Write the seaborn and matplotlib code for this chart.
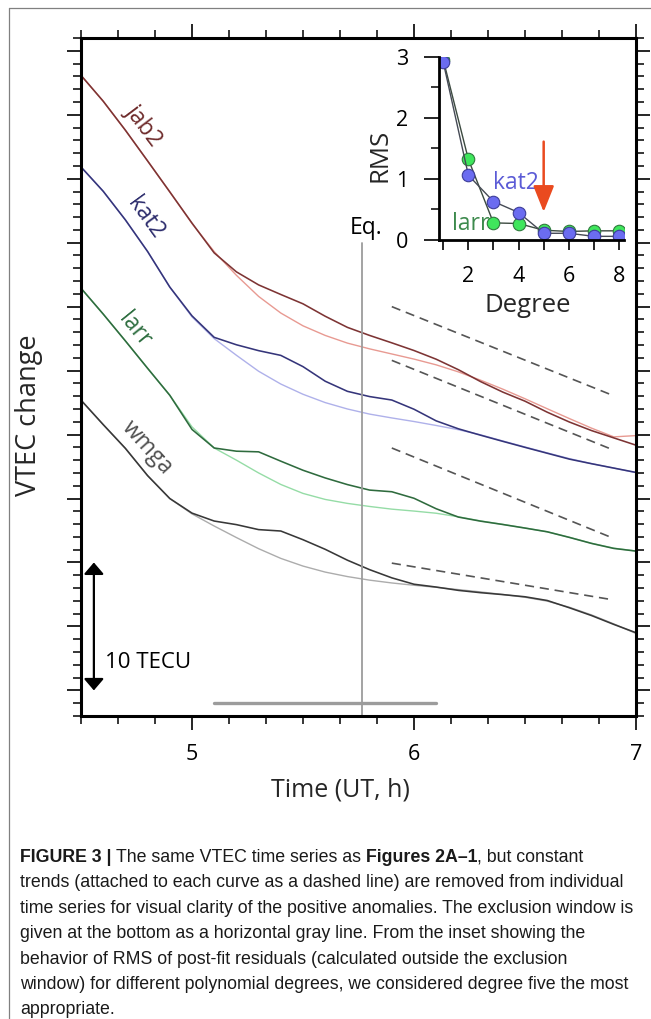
import numpy as np
import pandas as pd
import matplotlib
matplotlib.use("Agg")
import matplotlib.pyplot as plt
from matplotlib.lines import Line2D
import seaborn as sns

# ---------------------------------------------------------------- data
# UT hours
time_h = [4.5, 4.6, 4.7, 4.8, 4.9, 5.0, 5.1, 5.2, 5.3, 5.4, 5.5, 5.6, 5.7,
          5.8, 5.9, 6.0, 6.1, 6.2, 6.3, 6.4, 6.5, 6.6, 6.7, 6.8, 6.9, 7.0]

# observed VTEC (TECU, detrended and offset per station)
jab2_obs = [48.08, 46.06, 43.79, 41.39, 38.97, 36.53, 34.20, 32.72, 31.70,
            30.95, 30.22, 29.25, 28.38, 27.75, 27.17, 26.57, 25.89, 25.07,
            24.14, 23.32, 22.61, 21.75, 20.98, 20.31, 19.74, 19.17]
kat2_obs = [40.92, 39.02, 36.78, 34.31, 31.53, 29.28, 27.60, 27.02, 26.56,
            26.19, 25.31, 24.17, 23.38, 22.97, 22.70, 21.98, 21.07, 20.45,
            19.95, 19.47, 19.00, 18.54, 18.08, 17.72, 17.38, 17.04]
larr_obs = [31.44, 29.42, 27.32, 25.18, 23.07, 20.40, 18.95, 18.70, 18.65,
            17.92, 17.21, 16.61, 16.09, 15.66, 15.53, 15.02, 14.20, 13.55,
            13.23, 12.97, 12.69, 12.40, 11.96, 11.49, 11.10, 10.89]
wmga_obs = [22.69, 20.78, 18.92, 16.79, 15.00, 13.86, 13.24, 12.96, 12.57,
            12.46, 11.78, 11.03, 10.18, 9.44, 8.80, 8.30, 8.08, 7.82,
            7.64, 7.49, 7.32, 7.03, 6.46, 5.85, 5.16, 4.51]

# degree-5 polynomial models fitted outside the exclusion window
jab2_fit = [48.08, 46.06, 43.79, 41.39, 38.97, 36.50, 34.30, 32.45, 30.80,
            29.50, 28.50, 27.75, 27.15, 26.70, 26.30, 25.90, 25.45, 24.90,
            24.25, 23.55, 22.80, 22.02, 21.25, 20.50, 19.82, 19.92]
kat2_fit = [40.92, 39.02, 36.78, 34.31, 31.53, 29.20, 27.50, 26.20, 24.95,
            23.95, 23.15, 22.50, 22.00, 21.60, 21.30, 21.02, 20.71, 20.38,
            19.98, 19.50, 19.03, 18.57, 18.12, 17.73, 17.38, 17.02]
larr_fit = [31.44, 29.42, 27.32, 25.18, 23.07, 20.60, 18.95, 18.00, 17.00,
            16.10, 15.40, 14.93, 14.62, 14.38, 14.17, 14.02, 13.85, 13.57,
            13.25, 12.98, 12.70, 12.40, 11.97, 11.50, 11.12, 10.90]
wmga_fit = [22.69, 20.78, 18.92, 16.79, 15.00, 13.80, 12.85, 11.95, 11.08,
            10.32, 9.72, 9.25, 8.90, 8.62, 8.40, 8.22, 8.06, 7.88,
            7.70, 7.50, 7.28, 6.98, 6.50, 5.90, 5.20, 4.45]

# constant trends removed from each series (end points of the dashed lines)
trend_time = [5.9, 6.89]
jab2_trend = [30.00, 23.10]
kat2_trend = [25.80, 18.85]
larr_trend = [18.95, 11.95]
wmga_trend = [9.95, 7.10]

stations = ["jab2", "kat2", "larr", "wmga"]
observed = {"jab2": jab2_obs, "kat2": kat2_obs, "larr": larr_obs, "wmga": wmga_obs}
fitted = {"jab2": jab2_fit, "kat2": kat2_fit, "larr": larr_fit, "wmga": wmga_fit}
trends = {"jab2": jab2_trend, "kat2": kat2_trend, "larr": larr_trend, "wmga": wmga_trend}

eq_time = 5.767          # 05:46 UT
excl_window = [5.1, 6.1]  # exclusion window (UT h)
scale_bar = [0, 10]       # 10 TECU

# RMS of post-fit residuals versus polynomial degree
degree = [1, 2, 3, 4, 5, 6, 7, 8]
rms_kat2 = [2.91, 1.06, 0.63, 0.45, 0.11, 0.11, 0.06, 0.06]
rms_larr = [2.95, 1.32, 0.28, 0.27, 0.16, 0.14, 0.15, 0.15]
chosen_degree = 5

# long-form table of all curves
rows = []
for st in stations:
    for kind, src in (("obs", observed), ("fit", fitted)):
        for t, v in zip(time_h, src[st]):
            rows.append((st, kind, t, v))
df = pd.DataFrame(rows, columns=["station", "kind", "time", "vtec"])

# ---------------------------------------------------------------- style
sns.set_theme(style="ticks")
plt.rcParams["font.family"] = ["Open Sans", "DejaVu Sans"]
plt.rcParams["axes.edgecolor"] = "black"
plt.rcParams["xtick.color"] = "black"
plt.rcParams["ytick.color"] = "black"
plt.rcParams["text.color"] = "black"

obs_colors = {"jab2": "#7d3434", "kat2": "#35357a", "larr": "#2f6b3e", "wmga": "#383838"}
fit_colors = {"jab2": "#e89a92", "kat2": "#afb1ea", "larr": "#95dca6", "wmga": "#acacac"}
lab_colors = {"jab2": "#6e2b2b", "kat2": "#2c2c6c", "larr": "#2e6e40", "wmga": "#505050"}
lab_place = {"jab2": (4.78, 44.2, -53), "kat2": (4.79, 36.9, -54),
             "larr": (4.74, 28.2, -51), "wmga": (4.80, 19.0, -48)}

W, H = 651, 1019
fig = plt.figure(figsize=(W / 100, H / 100), dpi=100)
fig.patch.set_facecolor("white")


def fx(px):
    return px / W


def fy(py):
    return 1 - py / H


# page frame
fig.add_artist(Line2D([fx(9.3), fx(9.3)], [fy(8.3), 0], color="#808080", lw=0.9))
fig.add_artist(Line2D([fx(9.3), 1], [fy(8.3), fy(8.3)], color="#808080", lw=0.9))

# ---------------------------------------------------------------- main panel
ax = fig.add_axes([fx(81), fy(716), fx(636) - fx(81), fy(38) - fy(716)])
ax.set_facecolor("white")

for st in stations:
    sub = df[(df.station == st) & (df.kind == "fit")]
    sns.lineplot(data=sub, x="time", y="vtec", color=fit_colors[st], lw=1.0,
                 estimator=None, legend=False, ax=ax)
for st in stations:
    sub = df[(df.station == st) & (df.kind == "obs")]
    sns.lineplot(data=sub, x="time", y="vtec", color=obs_colors[st], lw=1.15,
                 estimator=None, legend=False, ax=ax)
    x0, y0, rot = lab_place[st]
    ax.text(x0, y0, st, color=lab_colors[st], fontsize=16.5, rotation=rot,
            rotation_mode="anchor", ha="center", va="center")
for st in stations:
    sns.lineplot(x=trend_time, y=trends[st], color="#555555", lw=1.2,
                 estimator=None, legend=False, ax=ax)
    ax.lines[-1].set_dashes((5.5, 3.5))

# earthquake time and exclusion window
sns.lineplot(x=[eq_time, eq_time], y=[-2, 35.0], color="#9c9c9c", lw=1.3,
             estimator=None, sort=False, legend=False, ax=ax)
ax.text(eq_time + 0.015, 35.2, "Eq.", fontsize=16.5, ha="center", va="bottom")
sns.lineplot(x=excl_window, y=[-1, -1], color="#9c9c9c", lw=2.4,
             estimator=None, legend=False, ax=ax)

# 10 TECU scale bar
ax.annotate("", xy=(4.558, scale_bar[1]), xytext=(4.558, scale_bar[0]),
            arrowprops=dict(arrowstyle="<|-|>,head_length=0.35,head_width=0.3",
                            color="black", lw=1.6, mutation_scale=20,
                            shrinkA=0, shrinkB=0))
ax.text(4.606, 2.15, "10 TECU", fontsize=16, ha="left", va="center")

ax.set_xlim(4.5, 7.0)
ax.set_ylim(-2, 51)
ax.set_xticks([5, 6, 7])
ax.set_xticklabels(["5", "6", "7"])
ax.set_xticks(np.arange(27, 43) / 6, minor=True)
ax.set_yticks(np.arange(0, 51, 5))
ax.set_yticks(np.arange(-2, 52), minor=True)
ax.set_yticklabels([])
ax.tick_params(which="both", direction="out", top=True, right=True,
               left=True, bottom=True, labeltop=False, labelright=False)
ax.tick_params(which="major", length=10, width=1.2)
ax.tick_params(which="minor", length=6, width=1.1)
ax.tick_params(axis="x", which="major", labelsize=15.5, pad=10)
for sp in ax.spines.values():
    sp.set_visible(True)
    sp.set_linewidth(2.2)
    sp.set_color("black")

ax.set_xlabel("Time (UT, h)", fontsize=18)
ax.xaxis.set_label_coords((340 - 81) / 555, (716 - 790) / 678)
ax.xaxis.label.set_va("center")
ax.set_ylabel("VTEC change", fontsize=19.5)
ax.yaxis.set_label_coords((29 - 81) / 555, (716 - 415) / 678)
ax.yaxis.label.set_va("center")

# ---------------------------------------------------------------- inset
axi = fig.add_axes([fx(439), fy(240), fx(624) - fx(439), fy(56.7) - fy(240)])
axi.set_facecolor("white")
sns.lineplot(x=degree, y=rms_larr, color="#3c4a40", lw=1.0, marker="o",
             markersize=9, markerfacecolor="#3fe65c", markeredgecolor="#2f7a3d",
             markeredgewidth=0.8, estimator=None, legend=False, ax=axi)
sns.lineplot(x=degree, y=rms_kat2, color="#454a55", lw=1.0, marker="o",
             markersize=9, markerfacecolor="#6b6cf0", markeredgecolor="#3d3d99",
             markeredgewidth=0.8, estimator=None, legend=False, ax=axi)
axi.text(3.88, 0.93, "kat2", color="#5b5bd6", fontsize=16.5, ha="center", va="center")
axi.text(2.85, 0.27, "larr", color="#3d8a4d", fontsize=16.5, ha="right", va="center")
axi.annotate("", xy=(chosen_degree, 0.46), xytext=(chosen_degree, 1.61),
             arrowprops=dict(arrowstyle="-|>,head_length=0.5,head_width=0.2",
                             color="#ea4a1f", lw=1.8, mutation_scale=32,
                             shrinkA=0, shrinkB=0))
axi.set_xlim(0.83, 8.2)
axi.set_ylim(0, 3)
axi.set_xticks(degree)
axi.set_xticklabels(["", "2", "", "4", "", "6", "", "8"])
axi.set_yticks([0, 1, 2, 3])
axi.set_yticks([0.5, 1.5, 2.5], minor=True)
axi.tick_params(which="both", direction="out", top=False, right=False)
axi.tick_params(axis="x", which="major", length=7, width=1.2, labelsize=15.5, pad=12)
axi.tick_params(axis="y", which="major", length=11, width=1.2, labelsize=15.5, pad=11)
axi.tick_params(axis="y", which="minor", length=6, width=1.1)
axi.spines["top"].set_visible(False)
axi.spines["right"].set_visible(False)
axi.spines["left"].set_linewidth(2.0)
axi.spines["bottom"].set_linewidth(2.0)
axi.set_xlabel("Degree", fontsize=18.5)
axi.xaxis.set_label_coords((528 - 439) / 185, (240 - 305) / 183.3)
axi.xaxis.label.set_va("center")
axi.set_ylabel("RMS", fontsize=18.5)
axi.yaxis.set_label_coords((380 - 439) / 185, (240 - 155) / 183.3)
axi.yaxis.label.set_va("center")

# ---------------------------------------------------------------- caption
cap_family = ["Liberation Sans Narrow", "Liberation Sans", "DejaVu Sans"]
caption = [
    [("FIGURE 3 |", "bold"), (" The same VTEC time series as ", "normal"),
     ("Figures 2A\u20131", "bold"), (", but constant", "normal")],
    [("trends (attached to each curve as a dashed line) are removed from individual", "normal")],
    [("time series for visual clarity of the positive anomalies. The exclusion window is", "normal")],
    [("given at the bottom as a horizontal gray line. From the inset showing the", "normal")],
    [("behavior of RMS of post-fit residuals (calculated outside the exclusion", "normal")],
    [("window) for different polynomial degrees, we considered degree five the most", "normal")],
    [("appropriate.", "normal")],
]
renderer = fig.canvas.get_renderer()


def text_width(s, size, weight):
    t = fig.text(0, 0, s, fontsize=size, family=cap_family, weight=weight)
    w = t.get_window_extent(renderer).width
    t.remove()
    return w


def advance(s, size, weight):
    return text_width("|" + s + "|", size, weight) - text_width("||", size, weight)


ref = caption[2][0][0]
cap_size = 12 * 617 / advance(ref, 12, "normal")
base0, step = 862, 25.4
for i, line in enumerate(caption):
    x = 20.0
    for seg, wt in line:
        lead = len(seg) - len(seg.lstrip(" "))
        xs = x + (advance(" " * lead, cap_size, wt) if lead else 0)
        fig.text(fx(xs), fy(base0 + i * step), seg.strip(" "), fontsize=cap_size,
                 family=cap_family, weight=wt, ha="left", va="baseline",
                 color="#1a1a1a")
        x += advance(seg, cap_size, wt)

fig.savefig("out.png", dpi=100, facecolor="white")
